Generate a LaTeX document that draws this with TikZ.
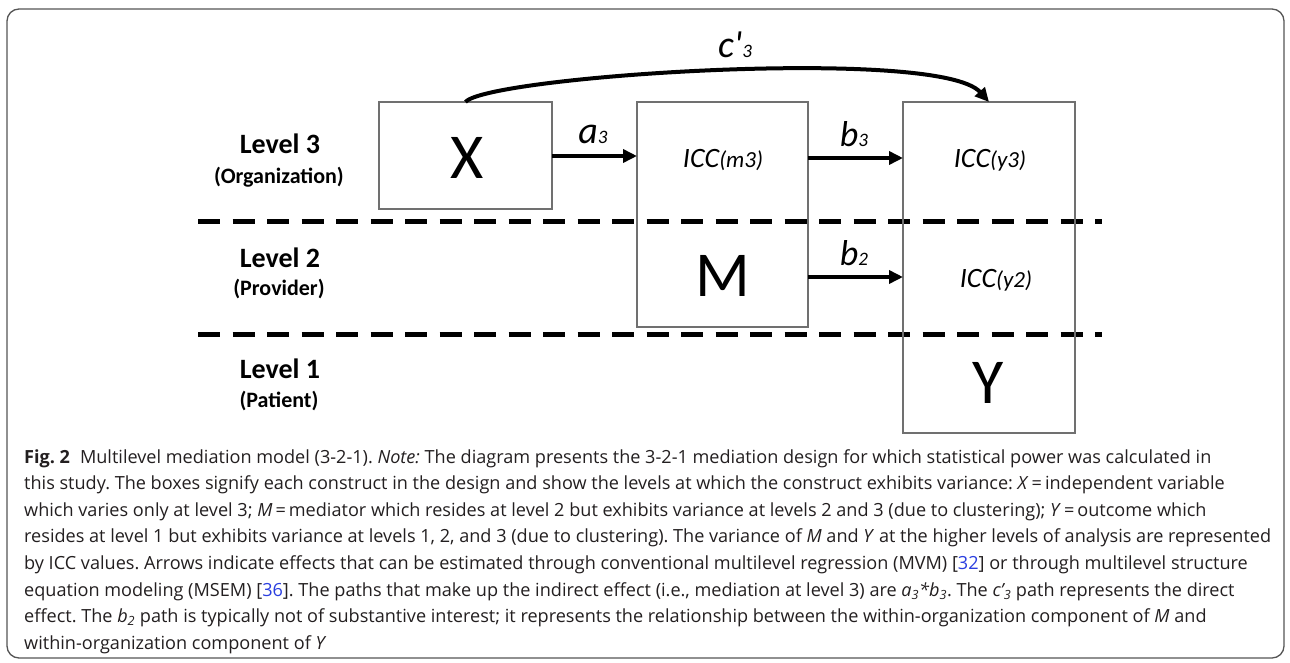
\documentclass[tikz,border=0pt]{standalone}
\usepackage{fontspec}
\setmainfont{Open Sans}
\newfontfamily\calib{Carlito}
\usetikzlibrary{arrows.meta}
\definecolor{boxgray}{HTML}{707070}
\definecolor{framegray}{HTML}{555555}
\definecolor{linkblue}{HTML}{2B3FE0}
\definecolor{captxt}{HTML}{231F20}
\begin{document}
\begin{tikzpicture}[x=1pt,y=-1pt,
  box/.style={draw=boxgray, line width=1.6pt, inner sep=0pt, outer sep=0pt},
  conn/.style={line width=4pt, -{Triangle[length=14pt,width=13pt]}},
  sepline/.style={line width=5pt, dash pattern=on 22pt off 12.5pt},
  lvl/.style={font=\calib\bfseries\fontsize{28}{28}\selectfont, anchor=base},
  lvlsub/.style={font=\calib\bfseries\fontsize{22}{22}\selectfont, anchor=base},
  big/.style={font=\calib\fontsize{64}{64}\selectfont, inner sep=0pt},
  icc/.style={font=\calib\itshape\fontsize{28}{28}\selectfont, anchor=base, inner sep=0pt},
  elab/.style={font=\calib\itshape, anchor=base, inner sep=0pt},
  captext/.style={font=\fontsize{18.1}{26.6}\selectfont\frenchspacing, text=captxt, anchor=base west, inner sep=0pt}]
\fill[white] (0,0) rectangle (1290,662);
\useasboundingbox (0,0) rectangle (1290,662);
\draw[framegray, line width=1.3pt, rounded corners=12pt] (7,9) rectangle (1284,658);

% level separators
\coordinate (s1a) at (198,221);
\coordinate (s1b) at (1102,221);
\coordinate (s2a) at (198,334);
\coordinate (s2b) at (1102,334);
\draw[sepline] (s1a) -- (s1b);
\draw[sepline] (s2a) -- (s2b);

% boxes
\node[box, minimum width=173pt, minimum height=107pt, anchor=north west] (X) at (379,102) {};
\node[box, minimum width=171pt, minimum height=225pt, anchor=north west] (M) at (637,102) {};
\node[box, minimum width=172pt, minimum height=331pt, anchor=north west] (Y) at (903,102) {};

% box texts
\node[big] (Xt) at (467,158) {X};
\node[big] (Mt) at (723,276) {M};
\node[big] (Yt) at (988,383) {Y};
\node[icc] (im3) at (723,167) {ICC{\fontsize{23}{23}\selectfont(m3)}};
\node[icc] (iy3) at (990,167) {ICC{\fontsize{23}{23}\selectfont(y3)}};
\node[icc] (iy2) at (996,287) {ICC{\fontsize{23}{23}\selectfont(y2)}};

% level labels
\node[lvl] (l3) at (280,153) {Level 3};
\node[lvlsub] (l3s) at (279,183) {(Organization)};
\node[lvl] (l2) at (280,267) {Level 2};
\node[lvlsub] (l2s) at (279,295) {(Provider)};
\node[lvl] (l1) at (280,378) {Level 1};
\node[lvlsub] (l1s) at (279,407) {(Patient)};

% connectors
\coordinate (Xe) at (X.east |- 0,156);
\coordinate (Mw) at (M.west |- 0,156);
\draw[conn] (Xe) -- (Mw);
\coordinate (Me3) at (M.east |- 0,158);
\coordinate (Yw3) at (Y.west |- 0,158);
\draw[conn] (Me3) -- (Yw3);
\coordinate (Me2) at (M.east |- 0,277);
\coordinate (Yw2) at (Y.west |- 0,277);
\draw[conn] (Me2) -- (Yw2);
\draw[conn] (X.north) .. controls +(22,-26) and +(-50,-56) .. (Y.north);

% edge labels
\node[elab] (a3) at (593,143) {{\fontsize{38}{38}\selectfont a}{\fontsize{19}{19}\selectfont 3}};
\node[elab] (b3) at (854,146) {{\fontsize{36}{36}\selectfont b}{\fontsize{19}{19}\selectfont 3}};
\node[elab] (b2) at (854,265) {{\fontsize{36}{36}\selectfont b}{\fontsize{19}{19}\selectfont 2}};
\node[elab] (c3) at (735,57) {{\fontsize{38}{38}\selectfont c\textquotesingle}{\fontsize{19}{19}\selectfont 3}};

% caption
\node[captext] (c1) at (24,463) {\textbf{Fig. 2}\hspace{0.55em}Multilevel mediation model (3-2-1). \textit{Note:} The diagram presents the 3-2-1 mediation design for which statistical power was calculated in};
\node[captext] (c2) at (24,489.6) {this study. The boxes signify each construct in the design and show the levels at which the construct exhibits variance: \textit{X}\,=\,independent variable};
\node[captext] (c3l) at (24,516.2) {which varies only at level 3; \textit{M}\,=\,mediator which resides at level 2 but exhibits variance at levels 2 and 3 (due to clustering); \textit{Y}\,=\,outcome which};
\node[captext] (c4) at (24,542.8) {resides at level 1 but exhibits variance at levels 1, 2, and 3 (due to clustering). The variance of \textit{M} and \textit{Y} at the higher levels of analysis are represented};
\node[captext] (c5) at (24,569.4) {by ICC values. Arrows indicate effects that can be estimated through conventional multilevel regression (MVM) [\textcolor{linkblue}{32}] or through multilevel structure};
\node[captext] (c6) at (24,596) {equation modeling (MSEM) [\textcolor{linkblue}{36}]. The paths that make up the indirect effect (i.e., mediation at level 3) are \textit{a\textsubscript{3}*b\textsubscript{3}}. The \textit{c’\textsubscript{3}} path represents the direct};
\node[captext] (c7) at (24,622.6) {effect. The \textit{b\textsubscript{2}} path is typically not of substantive interest; it represents the relationship between the within-organization component of \textit{M} and};
\node[captext] (c8) at (24,649.2) {within-organization component of \textit{Y}};
\end{tikzpicture}
\end{document}
